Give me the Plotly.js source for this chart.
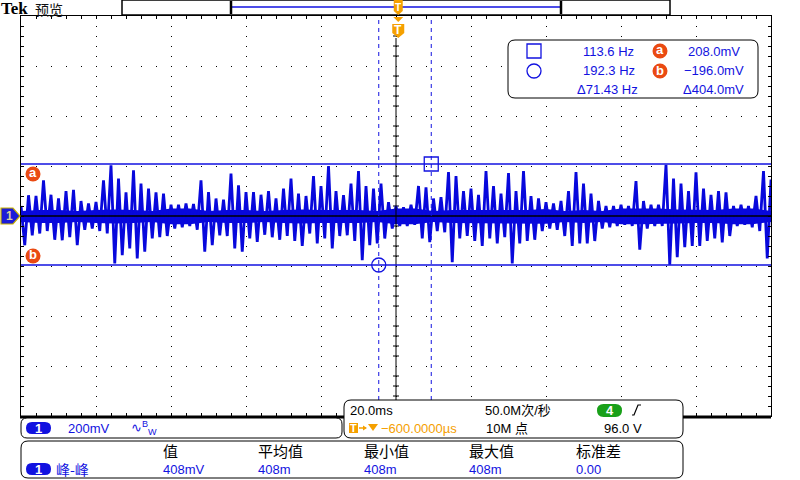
<!DOCTYPE html>
<html><head><meta charset="utf-8">
<script src="https://cdn.plot.ly/plotly-3.0.1.min.js"></script>
<style>html,body{margin:0;padding:0;background:#fff;}#chart{width:800px;height:480px;}</style>
</head><body><div id="chart"></div>
<script>
// ---------------- data ----------------
const ch1Start = -100.6;   // ms, time of first displayed sample relative to trigger
const ch1Step = 1.0;       // ms between displayed samples
const ch1Values = [        // mV, channel 1 peak / trough samples
  40, -117, 83, -77, 80, -70, 143, -60, 85, -95,
  70, -97, 100, -85, 105, -117, 60, -55, 50, -50,
  56, -60, 143, -70, 203, -190, 150, -157, 95, -130,
  183, -170, 130, -143, 110, -90, 95, -85, 90, -80,
  45, -50, 45, -45, 50, -40, 48, -55, 143, -143,
  96, -117, 70, -77, 65, -80, 170, -130, 123, -143,
  96, -90, 96, -104, 85, -75, 100, -85, 70, -95,
  110, -80, 150, -100, 90, -120, 80, -70, 160, -110,
  120, -90, 200, -130, 100, -80, 83, -77, 130, -100,
  180, -177, 120, -117, 110, -110, 130, -90, 55, -50,
  40, -40, 35, -40, 45, -35, 120, -90, 115, -105,
  70, -60, 75, -65, 176, -185, 160, -90, 100, -80,
  110, -100, 85, -120, 180, -90, 120, -110, 90, -85,
  172, -190, 100, -110, 180, -100, 80, -95, 70, -60,
  55, -50, 50, -55, 60, -80, 100, -120, 176, -110,
  130, -110, 90, -100, 60, -50, 40, -45, 40, -40,
  45, -35, 40, -40, 140, -135, 60, -50, 45, -40,
  45, -40, 205, -195, 150, -165, 130, -125, 100, -120,
  175, -120, 110, -100, 85, -90, 100, -106, 95, -80,
  40, -40, 45, -35, 40, -45, 80, -60, 180, -170, 146
];
// dense high-frequency core of the trace (solid band), every 5 ms
const coreStep = 5.0;      // ms
const coreUpper = [20, 24, 24, 20, 24, 26, 24, 20, 30, 30, 20, 24, 24, 20, 24, 26, 24, 24, 24, 20, 30,
                   30, 20, 24, 24, 26, 24, 24, 28, 20, 24, 20, 30, 30, 30, 26, 24, 24, 30, 30, 20];
const coreLower = [-24, -28, -28, -24, -28, -30, -28, -24, -33, -33, -24, -28, -28, -24, -28, -30, -28, -28, -28, -24, -33,
                   -33, -24, -28, -28, -30, -28, -28, -31, -24, -28, -24, -33, -33, -33, -30, -28, -28, -33, -33, -24];
const timeRange = [-100.6, 99.4];   // ms (20 ms/div, trigger delay -600 µs)
const voltRange = [-800, 800];      // mV (200 mV/div)
const cursorTimes = [8.8, -5.2];    // ms: square cursor, circle cursor
const cursorLevels = [208.0, -196.0]; // mV: cursor a, cursor b
const cursorFreqLabels = ['113.6 Hz', '192.3 Hz', 'Δ71.43 Hz'];
const cursorLevelLabels = ['208.0mV', '−196.0mV', 'Δ404.0mV'];
const chLabels = ['1', '200mV'];
const timebaseLabels = ['20.0ms', '50.0M次/秒', '−600.0000µs', '10M 点', '96.0 V', '4'];
const measHeaders = ['值', '平均值', '最小值', '最大值', '标准差'];
const measValues = ['408mV', '408m', '408m', '408m', '0.00'];
const measName = '峰-峰';

// ---------------- layout helpers (pixels -> paper) ----------------
const L = 21, R = 771, T = 16, B = 416;
const px = x => (x - L) / (R - L);
const py = y => (B - y) / (B - T);
const tx = t => L + (t - timeRange[0]) / (timeRange[1] - timeRange[0]) * (R - L);
const vy = v => B - (v - voltRange[0]) / (voltRange[1] - voltRange[0]) * (B - T);

const BLUE = '#1212e0', WAVE = '#0808dc', ORANGE = '#f5a000', RED = '#ea4a12', GREEN = '#19a019';
const SANS = 'Liberation Sans, Noto Sans CJK SC, sans-serif';
const CJK = 'Noto Sans CJK SC, Liberation Sans, sans-serif';

function rr(x0, y0, x1, y1, r) {
  const X = px, Y = py;
  return `M${X(x0 + r)},${Y(y0)} L${X(x1 - r)},${Y(y0)} Q${X(x1)},${Y(y0)} ${X(x1)},${Y(y0 + r)} ` +
    `L${X(x1)},${Y(y1 - r)} Q${X(x1)},${Y(y1)} ${X(x1 - r)},${Y(y1)} L${X(x0 + r)},${Y(y1)} ` +
    `Q${X(x0)},${Y(y1)} ${X(x0)},${Y(y1 - r)} L${X(x0)},${Y(y0 + r)} Q${X(x0)},${Y(y0)} ${X(x0 + r)},${Y(y0)} Z`;
}
function poly(pts) {
  return 'M' + pts.map(p => `${px(p[0])},${py(p[1])}`).join(' L') + ' Z';
}
const shapes = [];
const ann = [];
function pathShape(path, fill, line, lw, layer) {
  shapes.push({type: 'path', xref: 'paper', yref: 'paper', path: path, fillcolor: fill,
    line: {color: line, width: lw}, layer: layer || 'above'});
}
function rectPx(x0, y0, x1, y1, fill, line, lw) {
  shapes.push({type: 'rect', xref: 'paper', yref: 'paper', x0: px(x0), x1: px(x1), y0: py(y1), y1: py(y0),
    fillcolor: fill, line: {color: line, width: lw}, layer: 'above'});
}
function circPx(cx, cy, r, fill, line, lw) {
  shapes.push({type: 'circle', xref: 'paper', yref: 'paper', x0: px(cx - r), x1: px(cx + r), y0: py(cy + r), y1: py(cy - r),
    fillcolor: fill, line: {color: line, width: lw}, layer: 'above'});
}
function linePx(x0, y0, x1, y1, color, w, dash) {
  shapes.push({type: 'line', xref: 'paper', yref: 'paper', x0: px(x0), x1: px(x1), y0: py(y0), y1: py(y1),
    line: {color: color, width: w, dash: dash || 'solid'}, layer: 'above'});
}
function txt(x, y, text, color, size, family, xanchor, bold) {
  ann.push({xref: 'paper', yref: 'paper', x: px(x), y: py(y), text: bold ? '<b>' + text + '</b>' : text,
    showarrow: false, xanchor: xanchor || 'left', yanchor: 'middle', borderpad: 0,
    font: {color: color, size: size, family: family || SANS}});
}

// ---------------- graticule extras ----------------
const midT = (timeRange[0] + timeRange[1]) / 2;
for (let k = -20; k <= 20; k++) {
  const v = k * 40;
  if (v > voltRange[0] && v < voltRange[1] && k % 5 !== 0) {
    shapes.push({type: 'line', xref: 'x', yref: 'y', x0: midT - 0.8, x1: midT + 0.8, y0: v, y1: v,
      line: {color: 'black', width: 1}, layer: 'below'});
  }
}
for (let k = -25; k <= 25; k++) {
  const t = midT + k * 4;
  if (t > timeRange[0] && t < timeRange[1] && k % 5 !== 0) {
    shapes.push({type: 'line', xref: 'x', yref: 'y', x0: t, x1: t, y0: -12, y1: 12,
      line: {color: 'black', width: 1}, layer: 'below'});
  }
}
shapes.push({type: 'line', xref: 'paper', yref: 'y', x0: 0, x1: 1, y0: 0, y1: 0, line: {color: 'black', width: 1.5}, layer: 'above'});
shapes.push({type: 'line', xref: 'x', yref: 'paper', x0: midT, x1: midT, y0: 0, y1: py(38), line: {color: 'black', width: 1}, layer: 'above'});
cursorLevels.forEach(v => shapes.push({type: 'line', xref: 'paper', yref: 'y', x0: 0, x1: 1, y0: v, y1: v,
  line: {color: BLUE, width: 1.5}, layer: 'above'}));
cursorTimes.forEach(t => shapes.push({type: 'line', xref: 'x', yref: 'paper', x0: t, x1: t, y0: 0, y1: 1,
  line: {color: BLUE, width: 1, dash: '4px,4px'}, layer: 'above'}));

linePx(20, 417, 771, 417, 'black', 3);

const ya = vy(cursorLevels[0]) + 10, yb = vy(cursorLevels[1]) - 9;
circPx(33, ya, 7.5, RED, RED, 0);
circPx(33, yb, 7.5, RED, RED, 0);
txt(33, ya - 1, 'a', 'white', 13, SANS, 'center', true);
txt(33, yb - 1, 'b', 'white', 13, SANS, 'center', true);

const y0 = vy(0);
pathShape(poly([[1, y0 - 8], [13, y0 - 8], [20, y0], [13, y0 + 8], [1, y0 + 8]]), '#1c1cd8', '#c9b200', 1.2);
txt(9, y0, '1', '#d8d0a0', 12, SANS, 'center', true);

// top bar
rectPx(122, 0, 670, 15, 'white', 'black', 1.5);
linePx(231, 7, 561, 7, BLUE, 1.5);
linePx(231, 1, 231, 14, 'black', 2.5);
linePx(561, 1, 561, 14, 'black', 2.5);
const tp = tx(0);
pathShape(poly([[tp - 4.5, 0], [tp + 4.5, 0], [tp + 4.5, 11], [tp, 15], [tp - 4.5, 11]]), ORANGE, ORANGE, 0);
txt(tp, 7, 'T', 'white', 10, SANS, 'center', true);
pathShape(poly([[tp - 5, 17], [tp + 5, 17], [tp, 22]]), ORANGE, ORANGE, 0);
pathShape(poly([[tp - 6, 24], [tp + 6, 24], [tp + 6, 33], [tp, 38], [tp - 6, 33]]), ORANGE, ORANGE, 0);
txt(tp, 30, 'T', 'white', 12, SANS, 'center', true);

// title
txt(0, 9, 'Tek', 'black', 17, 'Liberation Serif', 'left', true);
txt(34, 9.5, '预览', '#111', 14, CJK, 'left');

// readout box
pathShape(rr(508, 40, 758, 98, 7), 'white', 'black', 1);
rectPx(527, 44, 541, 58, 'rgba(0,0,0,0)', BLUE, 1.3);
circPx(534, 71, 7, 'rgba(0,0,0,0)', BLUE, 1.3);
txt(582, 51, cursorFreqLabels[0], BLUE, 13);
txt(582, 71, cursorFreqLabels[1], BLUE, 13);
txt(576, 89, cursorFreqLabels[2], BLUE, 13);
circPx(660, 51, 7.5, RED, RED, 0);
circPx(660, 71, 7.5, RED, RED, 0);
txt(660, 50, 'a', 'white', 13, SANS, 'center', true);
txt(660, 70, 'b', 'white', 13, SANS, 'center', true);
txt(687, 51, cursorLevelLabels[0], BLUE, 13);
txt(683, 71, cursorLevelLabels[1], BLUE, 13);
txt(682, 89, cursorLevelLabels[2], BLUE, 13);

// channel box
pathShape(rr(21, 418, 342, 438, 6), 'white', 'black', 1);
pathShape(rr(26, 422, 51, 434, 6), BLUE, BLUE, 0);
txt(38.5, 428, chLabels[0], 'white', 13, SANS, 'center', true);
txt(67, 428, chLabels[1], BLUE, 13);
txt(130, 428, '∿<sup>B</sup><sub>W</sub>', BLUE, 13);

// timebase box
pathShape(rr(344, 400, 683, 438, 7), 'white', 'black', 1);
txt(349, 410, timebaseLabels[0], 'black', 13);
txt(484, 410, timebaseLabels[1], 'black', 13);
pathShape(rr(597, 404, 622, 417, 6.5), GREEN, GREEN, 0);
txt(609.5, 410.5, timebaseLabels[5], 'white', 13, SANS, 'center', true);
pathShape(`M${px(632)},${py(415)} L${px(634)},${py(415)} L${px(638)},${py(405)} L${px(641)},${py(405)}`, 'rgba(0,0,0,0)', 'black', 1.2);
rectPx(349, 423, 358, 433, ORANGE, ORANGE, 0);
txt(353.5, 428, 'T', 'white', 11, SANS, 'center', true);
linePx(359, 428, 366, 428, ORANGE, 1.5);
pathShape(poly([[363, 425.5], [367, 428], [363, 430.5]]), ORANGE, ORANGE, 0);
pathShape(poly([[368, 424], [378, 424], [373, 431]]), ORANGE, ORANGE, 0);
txt(380, 428, timebaseLabels[2], ORANGE, 13);
txt(485, 428, timebaseLabels[3], 'black', 13);
txt(603, 428, timebaseLabels[4], 'black', 13);

// measurement box
pathShape(rr(21, 441, 683, 478, 7), 'white', 'black', 1);
const measX = [162, 257, 363, 468, 575];
measHeaders.forEach((h, i) => txt(measX[i], 451, h, 'black', 15, CJK));
measValues.forEach((v, i) => txt(measX[i], 469, v, BLUE, 13));
pathShape(rr(26, 463, 51, 475, 6), BLUE, BLUE, 0);
txt(38.5, 469, chLabels[0], 'white', 13, SANS, 'center', true);
txt(55, 469, measName, BLUE, 14, CJK);

// ---------------- traces ----------------
const ch1Times = ch1Values.map((v, i) => ch1Start + i * ch1Step);
const coreTimes = coreUpper.map((v, i) => ch1Start + i * coreStep);
const traces = [
  {type: 'scatter', mode: 'lines', x: coreTimes, y: coreLower, line: {color: WAVE, width: 0},
    hoverinfo: 'skip', showlegend: false},
  {type: 'scatter', mode: 'lines', x: coreTimes, y: coreUpper, line: {color: WAVE, width: 0},
    fill: 'tonexty', fillcolor: WAVE, hoverinfo: 'skip', showlegend: false},
  {type: 'scatter', mode: 'lines', x: ch1Times, y: ch1Values, line: {color: WAVE, width: 2.8},
    hoverinfo: 'skip', showlegend: false},
  {type: 'scatter', mode: 'markers', x: [cursorTimes[0]], y: [cursorLevels[0]],
    marker: {symbol: 'square-open', size: 14, color: BLUE, line: {width: 1.3}}, hoverinfo: 'skip', showlegend: false, cliponaxis: false},
  {type: 'scatter', mode: 'markers', x: [cursorTimes[1]], y: [cursorLevels[1]],
    marker: {symbol: 'circle-open', size: 14, color: BLUE, line: {width: 1.3}}, hoverinfo: 'skip', showlegend: false, cliponaxis: false}
];

const layout = {
  width: 800, height: 480,
  margin: {l: L, r: 800 - R, t: T, b: 480 - B, pad: 0},
  paper_bgcolor: 'white', plot_bgcolor: 'white',
  showlegend: false,
  xaxis: {range: timeRange, tick0: midT, dtick: 20, showticklabels: false, zeroline: false,
    showgrid: true, gridcolor: 'black', gridwidth: 1, griddash: '1px,9px',
    showline: true, linecolor: 'black', linewidth: 1, mirror: 'allticks',
    ticks: 'inside', ticklen: 3, tickcolor: 'black', tickwidth: 1,
    minor: {tick0: midT, dtick: 4, ticks: 'inside', ticklen: 3, tickcolor: 'black', tickwidth: 1, showgrid: false},
    fixedrange: true},
  yaxis: {range: voltRange, tick0: 0, dtick: 200, showticklabels: false, zeroline: false,
    showgrid: true, gridcolor: 'black', gridwidth: 1, griddash: '1px,14px',
    showline: true, linecolor: 'black', linewidth: 1, mirror: 'allticks',
    ticks: 'inside', ticklen: 3, tickcolor: 'black', tickwidth: 1,
    minor: {tick0: 0, dtick: 40, ticks: 'inside', ticklen: 3, tickcolor: 'black', tickwidth: 1, showgrid: false},
    fixedrange: true},
  shapes: shapes,
  annotations: ann
};
Plotly.newPlot('chart', traces, layout, {staticPlot: true, displayModeBar: false});
</script>
</body></html>
